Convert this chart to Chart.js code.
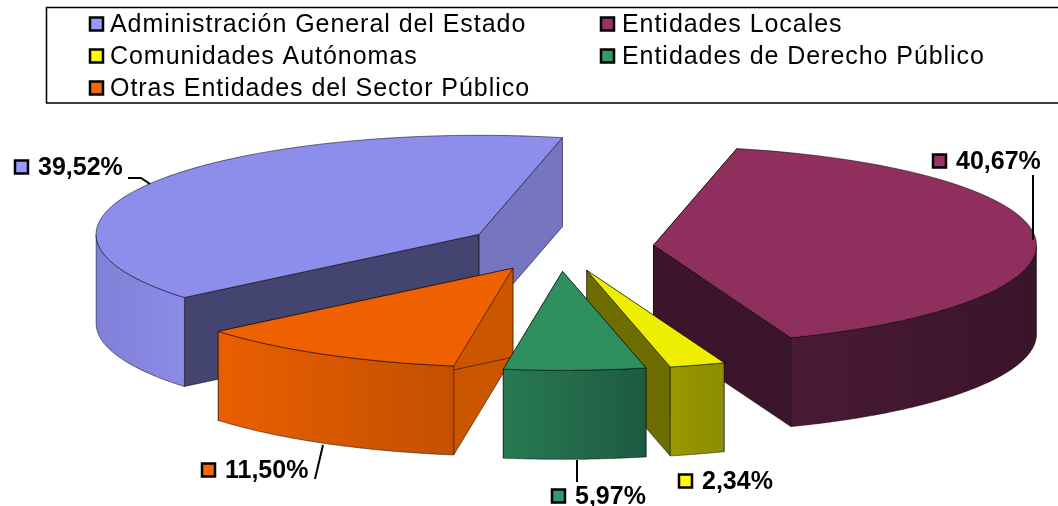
<!DOCTYPE html>
<html><head><meta charset="utf-8">
<style>html,body{margin:0;padding:0;background:#fff}#w{position:relative;width:1058px;height:506px}</style>
<script src="https://cdn.jsdelivr.net/npm/chart.js@4"></script></head>
<body><div id="w"><canvas id="c" width="1058" height="506"></canvas></div>
<script>
const categories = ['Administración General del Estado','Entidades Locales','Comunidades Autónomas','Entidades de Derecho Público','Otras Entidades del Sector Público'];
const values = [39.52,40.67,2.34,5.97,11.50];
const legendColors = ['#9999FF','#993366','#FFFF00','#339966','#FF6600'];
const topColors = ['#8D8DEB','#8E2F5E','#EEEE00','#2F8F5F','#EE6000'];
const rimColors = [['#8080D6','#8C8CE8'],['#4A1A36','#3A1429'],['#999900','#8C8C00'],['#287A52','#1D5A42'],['#EA5F00','#C25000']];
const startWallColors = ['#444470','#3C142C','#6E6E00','#1F5E44','#CC5500'];
const endWallColors = ['#7575C0','#3C142C','#6E6E00','#1F5E44','#CC5500'];
const drawOrder = [0,1,2,4,3];
const PROJ = {cx:559.5, cy:247, a:383, b:99, depth:89, explode:0.246};
const LEGEND_POS = [[90,24],[601,24],[90,56],[601,56],[90,88]];
const LABEL_POS = [[15,167],[933,161],[679,481],[552,496],[202,470]];
const LEADERS = [[[128,178],[141,178],[150,184]],[[1033,175],[1033,240]],[],[[577,460],[577,482]],[[323,445],[315,479]]];

function swatch(ctx,x,yc,col){
  ctx.fillStyle=col;ctx.strokeStyle='#000';ctx.lineWidth=2.5;
  ctx.fillRect(x,yc-6.5,13,13);ctx.strokeRect(x,yc-6.5,13,13);
}
const pie3d = {
  id:'pie3d',
  beforeDatasetDraw(chart){
    const ctx=chart.ctx, arcs=chart.getDatasetMeta(0).data;
    const R=arcs[0].outerRadius, X=arcs[0].x, Y=arcs[0].y, shift=PROJ.explode*R, d=PROJ.depth;
    const P=(i,ang,r)=>{const a=arcs[i],h=(a.startAngle+a.endAngle)/2;
      const ux=Math.cos(ang)*r+Math.cos(h)*shift, uy=Math.sin(ang)*r+Math.sin(h)*shift;
      return [PROJ.cx+ux*PROJ.a/R, PROJ.cy+uy*PROJ.b/R];};
    const angles=(i)=>{const a=arcs[i],o=[];for(let k=0;k<=300;k++)o.push(a.startAngle+(a.endAngle-a.startAngle)*k/300);return o;};
    ctx.save();ctx.lineWidth=1;ctx.lineJoin='round';ctx.strokeStyle='rgba(0,0,0,.5)';
    for(const i of drawOrder){
      const a=arcs[i],c=P(i,0,0),s=P(i,a.startAngle,R),e=P(i,a.endAngle,R);
      for(const [p,col] of [[s,startWallColors[i]],[e,endWallColors[i]]]){
        ctx.beginPath();ctx.moveTo(c[0],c[1]);ctx.lineTo(p[0],p[1]);ctx.lineTo(p[0],p[1]+d);ctx.lineTo(c[0],c[1]+d);ctx.closePath();
        ctx.fillStyle=col;ctx.fill();ctx.stroke();
      }
      // only the front part of the rim faces the viewer
      const pts=angles(i).filter(t=>Math.sin(t)>=0).map(t=>P(i,t,R)),xs=pts.map(p=>p[0]);
      const g=ctx.createLinearGradient(Math.min(...xs),0,Math.max(...xs),0);
      g.addColorStop(0,rimColors[i][0]);g.addColorStop(1,rimColors[i][1]);
      ctx.beginPath();pts.forEach((p,k)=>k?ctx.lineTo(p[0],p[1]):ctx.moveTo(p[0],p[1]));
      for(let k=pts.length-1;k>=0;k--)ctx.lineTo(pts[k][0],pts[k][1]+d);
      ctx.closePath();ctx.fillStyle=g;ctx.fill();ctx.stroke();
    }
    ctx.restore();
    arcs.forEach((a)=>{
      const h=(a.startAngle+a.endAngle)/2;
      ctx.save();
      ctx.translate(PROJ.cx,PROJ.cy);ctx.scale(PROJ.a/R,PROJ.b/R);
      ctx.translate(Math.cos(h)*shift-X,Math.sin(h)*shift-Y);
      a.draw(ctx);
      ctx.restore();
    });
    ctx.save();ctx.lineWidth=1;ctx.strokeStyle='rgba(0,0,0,.55)';ctx.lineJoin='round';
    arcs.forEach((a,i)=>{
      const c=P(i,0,0);ctx.beginPath();ctx.moveTo(c[0],c[1]);
      angles(i).forEach(t=>{const p=P(i,t,R);ctx.lineTo(p[0],p[1]);});
      ctx.closePath();ctx.stroke();
    });
    ctx.restore();
    return false;
  },
  afterDraw(chart){
    const ctx=chart.ctx;
    ctx.save();
    ctx.strokeStyle='#000';ctx.lineWidth=1.5;
    ctx.beginPath();ctx.moveTo(1060,7.5);ctx.lineTo(46.5,7.5);ctx.lineTo(46.5,103);ctx.lineTo(1060,103);ctx.stroke();
    ctx.textBaseline='middle';ctx.textAlign='left';
    categories.forEach((t,i)=>{
      const [x,y]=LEGEND_POS[i];
      swatch(ctx,x,y,legendColors[i]);
      ctx.fillStyle='#000';ctx.font='25px "Liberation Sans"';ctx.letterSpacing='0.95px';
      ctx.fillText(t,x+(x>500?21:20),y+1);
    });
    ctx.letterSpacing='0px';
    values.forEach((v,i)=>{
      const [x,y]=LABEL_POS[i];
      swatch(ctx,x,y,legendColors[i]);
      ctx.fillStyle='#000';ctx.font='bold 25px "Liberation Sans"';
      ctx.fillText(v.toFixed(2).replace('.',',')+'%',x+23,y+1);
      if(LEADERS[i].length){
        ctx.beginPath();LEADERS[i].forEach((p,k)=>k?ctx.lineTo(p[0],p[1]):ctx.moveTo(p[0],p[1]));
        ctx.strokeStyle='#000';ctx.lineWidth=2;ctx.stroke();
      }
    });
    ctx.restore();
  }
};
new Chart(document.getElementById('c'),{
  type:'pie',
  data:{labels:categories,datasets:[{data:values,backgroundColor:topColors,borderWidth:0}]},
  options:{responsive:false,animation:false,rotation:230.3,layout:{padding:0},
    plugins:{legend:{display:false},tooltip:{enabled:false}}},
  plugins:[pie3d]
});
</script></body></html>
